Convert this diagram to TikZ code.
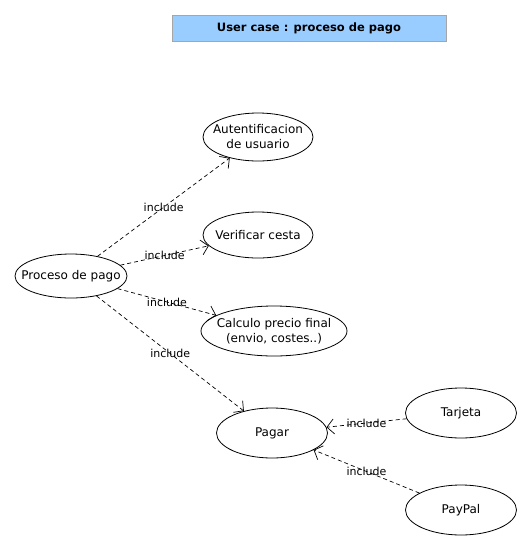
\documentclass[tikz,border=0pt]{standalone}
\usepackage{fontspec}
\setmainfont{DejaVu Sans}
\usetikzlibrary{shapes.geometric,arrows.meta}
\definecolor{titleblue}{RGB}{153,204,255}
\tikzset{
  usecase/.style={draw,line width=0.8pt,ellipse,align=center,inner xsep=-10pt,inner ysep=0pt,font=\fontsize{12}{15}\selectfont},
  incl/.style={draw,line width=0.7pt,dashed,dash pattern=on 4pt off 3pt,-{Straight Barb[length=7pt,width=15pt]}},
  incllabel/.style={midway,font=\fontsize{11}{13}\selectfont,inner sep=0pt}
}
\begin{document}
\begin{tikzpicture}[x=1pt,y=-1pt]
  \useasboundingbox (0,0) rectangle (531,550);
  \node[draw=gray!70,line width=0.8pt,fill=titleblue,minimum width=274pt,minimum height=26pt,font=\bfseries\fontsize{11.5}{14}\selectfont] (title) at (309,28) {User case : proceso de pago};
  \node[usecase,minimum width=112pt,minimum height=44pt] (proc) at (71,276) {Proceso de pago};
  \node[usecase,minimum width=110pt,minimum height=48pt] (auth) at (258,137) {Autentificacion\\de usuario};
  \node[usecase,minimum width=110pt,minimum height=46pt] (cesta) at (258,235) {Verificar cesta};
  \node[usecase,minimum width=146pt,minimum height=50pt] (calc) at (274,331) {Calculo precio final\\(envio, costes..)};
  \node[usecase,minimum width=111pt,minimum height=50pt] (pagar) at (272,433) {Pagar};
  \node[usecase,minimum width=111pt,minimum height=50pt] (tarjeta) at (461,413) {Tarjeta};
  \node[usecase,minimum width=111pt,minimum height=50pt] (paypal) at (461,510) {PayPal};
  \draw[incl] (proc) -- (auth) node[incllabel] {include};
  \draw[incl] (proc) -- (cesta) node[incllabel] {include};
  \draw[incl] (proc) -- (calc) node[incllabel] {include};
  \draw[incl] (proc) -- (pagar) node[incllabel] {include};
  \draw[incl] (tarjeta) -- (pagar) node[incllabel] {include};
  \draw[incl] (paypal) -- (pagar) node[incllabel] {include};
\end{tikzpicture}
\end{document}
